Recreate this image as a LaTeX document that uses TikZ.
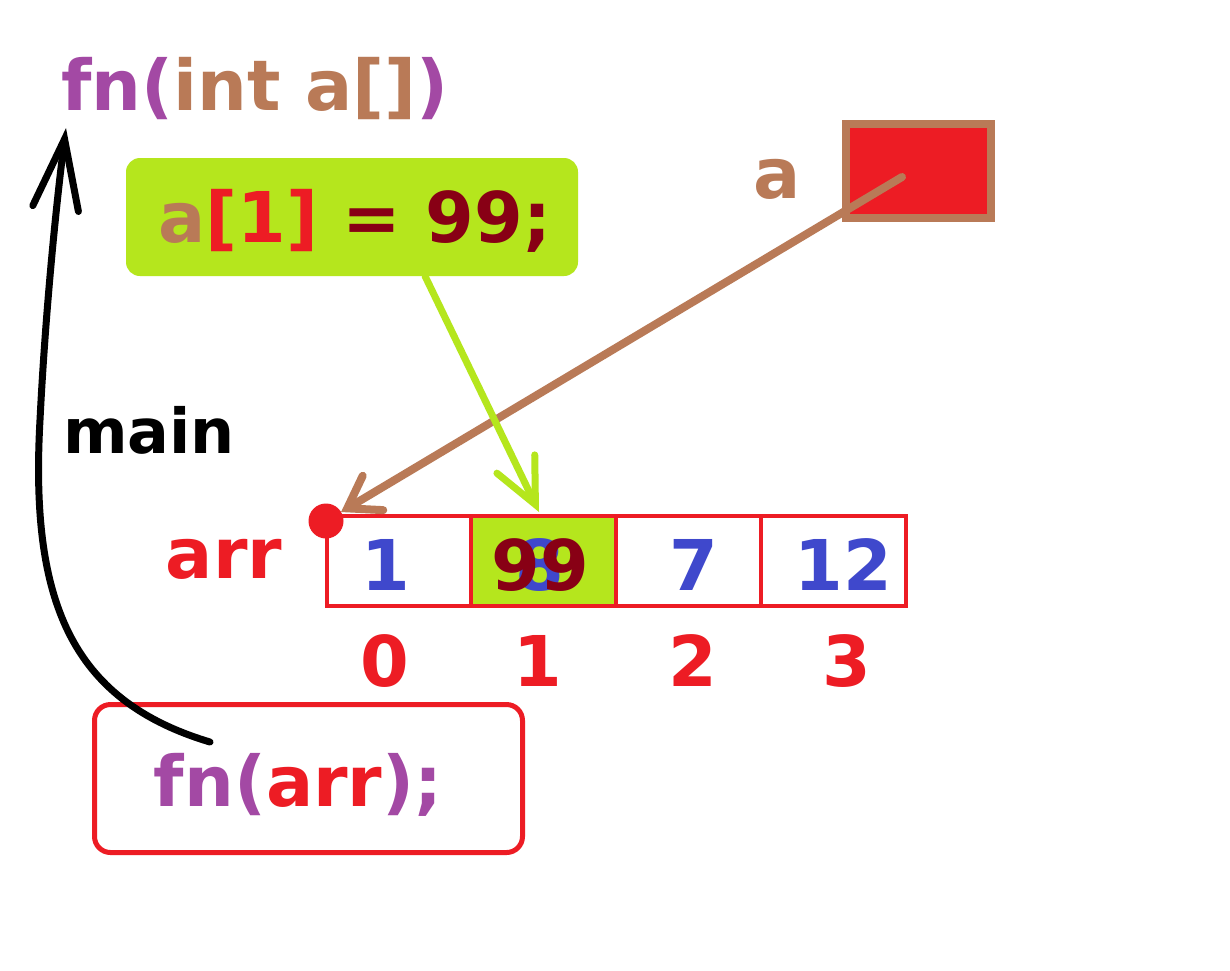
\documentclass[tikz,border=0pt]{standalone}
\usepackage{fontspec}
\setmainfont{DejaVu Sans}
\usetikzlibrary{arrows.meta}
\definecolor{cpurple}{HTML}{A349A4}
\definecolor{cbrown}{HTML}{B97A57}
\definecolor{cred}{HTML}{ED1C24}
\definecolor{cdark}{HTML}{880015}
\definecolor{clime}{HTML}{B5E61D}
\definecolor{cblue}{HTML}{3F48CC}
\begin{document}
\begin{tikzpicture}[x=1pt,y=-1pt,
  every node/.style={inner sep=0pt, outer sep=0pt},
  big/.style={font=\fontsize{70}{70}\selectfont\bfseries, anchor=base},
  cell/.style={draw=cred, line width=4pt, minimum width=145pt, minimum height=90pt},
  barb/.style={-{Straight Barb[#1, line cap=round]}},
]
\fill[white] (0,0) rectangle (1230,970);
\useasboundingbox (0,0) rectangle (1230,970);

% function signature
\node[big] (sig) at (255,110) {{\color{cpurple}fn(}{\color{cbrown}int a[]}{\color{cpurple})}};
\coordinate (sigtip) at (66,128);

% assignment box
\node[fill=clime, rounded corners=14pt, minimum width=452pt, minimum height=118pt] (asgbox) at (352,217) {};
\node[big] (asg) at (355,242) {{\color{cbrown}a}{\color{cred}[1]}\ {\color{cdark}= 99;}};

% pointer a
\node[big, text=cbrown] (alabel) at (777,198) {a};
\node[draw=cbrown, fill=cred, line width=8pt, minimum width=145pt, minimum height=94pt] (pa) at (918.5,171) {};
\coordinate (pstart) at (902,177);

% array cells
\node[cell] (c0) at (399,560.5) {};
\node[cell, fill=clime] (c1) at (543.5,560.5) {};
\node[cell] (c2) at (688.5,560.5) {};
\node[cell] (c3) at (833.5,560.5) {};

\node[big, text=cblue] (v0) at (386,590) {1};
\node[big, text=cblue] (v1old) at (540,590) {8};
\node[big, text=cdark] (v1) at (540,590) {99};
\node[big, text=cblue] (v2) at (694,590) {7};
\node[big, text=cblue] (v3) at (843,590) {12};

\node[big, text=cred] (i0) at (385,686) {0};
\node[big, text=cred] (i1) at (538,686) {1};
\node[big, text=cred] (i2) at (693,686) {2};
\node[big, text=cred] (i3) at (847,686) {3};

\node[big, text=cred] (arr) at (224,578) {arr};
\node[big, text=black, font=\fontsize{62}{62}\selectfont\bfseries] (main) at (149,453) {main};

% red dot
\node[circle, fill=cred, minimum size=35pt] (dot) at (326,521) {};

% arrows
\draw[cbrown, line width=8pt, line cap=round, barb={length=30pt, width=40pt}] (pstart) -- (dot);
\coordinate (gstart) at (425,276);
\coordinate (gend) at (539,512);
\draw[clime, line width=7pt, line cap=round, barb={length=45pt, width=42pt}] (gstart) -- (gend);

% call box
\node[draw=cred, line width=5pt, fill=white, rounded corners=16pt, minimum width=428pt, minimum height=148pt] (call) at (308.5,778.5) {};
\node[big] (calltext) at (298,806) {{\color{cpurple}fn(}{\color{cred}arr}{\color{cpurple});}};

\coordinate (cstart) at (210,742);
\draw[black, line width=7pt, line cap=round, barb={length=70pt, width=46pt}] (cstart) .. controls (70,700) and (30,600) .. (40,420) .. controls (46,300) and (58,190) .. (sigtip);
\end{tikzpicture}
\end{document}
